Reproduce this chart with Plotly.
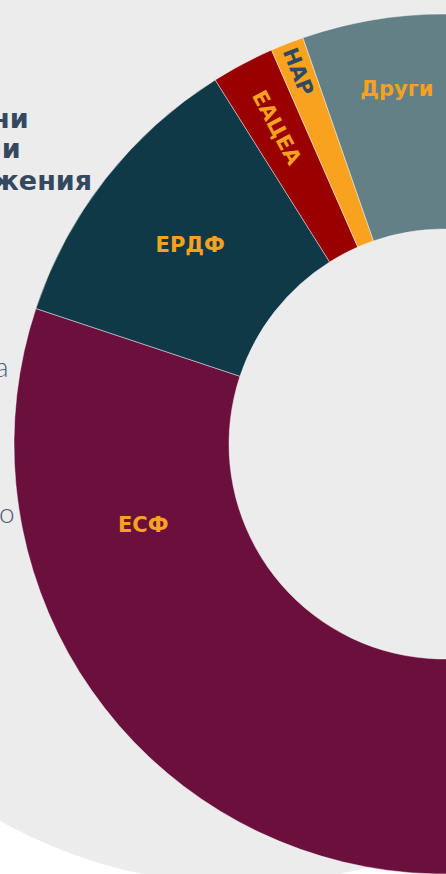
import plotly.graph_objects as go

# ---- data ----
labels = ["ЕСФ", "ЕРДФ", "ЕАЦЕА", "НАР", "Други"]
shares = [78.99, 10.97, 2.36, 1.25, 6.43]
slice_colors = ["#6b0f3c", "#0f3946", "#990000", "#f8a21f", "#628086"]
label_text = ["", "ЕРДФ", "ЕАЦЕА", "НАР", "Други"]
label_colors = ["#f5a123", "#f5a123", "#f5a123", "#2e4a62", "#f5a123"]
start_angle = 4  # first slice starts a little past 12 o'clock

# fragments of page text visible at the left edge
heading_parts = ["ни", "ни", "жения"]
body_parts = ["а", "о"]

W, H = 888, 874
cx, cy, R = 444, 444, 430
LABEL_FONT = "DejaVu Sans"


def px(x):
    return x / W


def py(y):
    return 1 - y / H


fig = go.Figure()
fig.add_trace(go.Pie(
    labels=labels,
    values=shares,
    sort=False,
    direction="clockwise",
    rotation=start_angle,
    hole=0.5,
    marker=dict(colors=slice_colors, line=dict(color="rgba(255,255,255,0.55)", width=0.8)),
    texttemplate=label_text,
    textposition="inside",
    insidetextorientation="auto",
    textfont=dict(family=LABEL_FONT, size=21, color=label_colors, weight=700),
    hoverinfo="label+percent",
    domain=dict(x=[px(cx - R), px(cx + R)], y=[py(cy + R), py(cy - R)]),
    showlegend=False,
))

# big light-grey backdrop disc
fig.add_shape(type="circle", xref="paper", yref="paper",
              x0=px(241 - 490), x1=px(241 + 490), y0=py(394 + 490), y1=py(394 - 490),
              fillcolor="#ececec", line=dict(width=0), layer="below")

annotations = []
for txt, xr, yc in zip(heading_parts, [31, 23, 94], [118, 149, 180]):
    annotations.append(dict(text=txt, x=px(xr), y=py(yc), xref="paper", yref="paper",
                            xanchor="right", yanchor="middle", showarrow=False,
                            font=dict(family=LABEL_FONT, size=27, color="#34495f", weight=700)))
for txt, xr, yc in zip(body_parts, [11, 17], [366, 512]):
    annotations.append(dict(text=txt, x=px(xr), y=py(yc), xref="paper", yref="paper",
                            xanchor="right", yanchor="middle", showarrow=False,
                            font=dict(family="Lato", size=28, color="#4b607a", weight=300)))
# label of the largest slice, placed where the original shows it
annotations.append(dict(text=labels[0], x=px(143), y=py(525), xref="paper", yref="paper",
                        xanchor="center", yanchor="middle", showarrow=False,
                        font=dict(family=LABEL_FONT, size=21, color=label_colors[1], weight=700)))

fig.update_layout(
    width=W, height=H,
    margin=dict(l=0, r=0, t=0, b=0),
    paper_bgcolor="#ffffff",
    showlegend=False,
    annotations=annotations,
)

fig.write_html("out.html", post_script="document.body.style.margin='0px';")
